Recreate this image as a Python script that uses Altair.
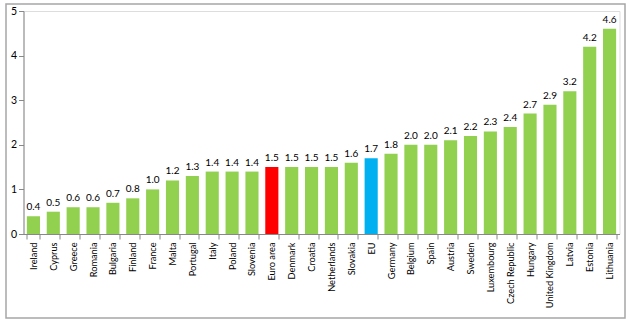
import altair as alt
import pandas as pd

countries = ["Ireland", "Cyprus", "Greece", "Romania", "Bulgaria", "Finland", "France", "Malta",
             "Portugal", "Italy", "Poland", "Slovenia", "Euro area", "Denmark", "Croatia",
             "Netherlands", "Slovakia", "EU", "Germany", "Belgium", "Spain", "Austria", "Sweden",
             "Luxembourg", "Czech Republic", "Hungary", "United Kingdom", "Latvia", "Estonia", "Lithuania"]
values = [0.4, 0.5, 0.6, 0.6, 0.7, 0.8, 1.0, 1.2, 1.3, 1.4, 1.4, 1.4, 1.5, 1.5, 1.5,
          1.5, 1.6, 1.7, 1.8, 2.0, 2.0, 2.1, 2.2, 2.3, 2.4, 2.7, 2.9, 3.2, 4.2, 4.6]
groups = ["Country"] * 12 + ["Euro area"] + ["Country"] * 4 + ["EU"] + ["Country"] * 12

df = pd.DataFrame({"country": countries, "value": values, "group": groups})
df["label"] = df["value"].map(lambda v: f"{v:.1f}")

FONT = "Lato"

x = alt.X("country:N", sort=countries, title=None,
          scale=alt.Scale(paddingInner=0.34, paddingOuter=0.17),
          axis=alt.Axis(labelAngle=270, labelAlign="right", labelBaseline="middle",
                        labelFont=FONT, labelFontSize=9.2, labelColor="#000000",
                        labelPadding=3, tickBand="extent", tickSize=5,
                        tickColor="#888888", domainColor="#888888", grid=False))
y = alt.Y("value:Q", title=None,
          scale=alt.Scale(domain=[0, 5], nice=False),
          axis=alt.Axis(values=[0, 1, 2, 3, 4, 5], format="d", labelFont=FONT, labelFontSize=10.5,
                        labelColor="#000000", tickSize=5, tickColor="#888888",
                        domainColor="#888888", grid=False, labelPadding=2))

bars = alt.Chart(df).mark_bar().encode(
    x=x, y=y,
    color=alt.Color("group:N", legend=None,
                    scale=alt.Scale(domain=["Country", "Euro area", "EU"],
                                    range=["#92D050", "#FF0000", "#00B0F0"])))

labels = alt.Chart(df).mark_text(dy=-9, font=FONT, fontSize=10, color="#000000").encode(
    x=x, y=y, text="label:N")

border = alt.Chart(pd.DataFrame({"a": [0]})).mark_rect(
    fill="transparent", stroke="#A6A6A6", strokeWidth=1.5).encode(
    x=alt.value(-17.5), x2=alt.value(601.5), y=alt.value(-7), y2=alt.value(307))

chart = alt.layer(bars, labels, border).properties(
    width=596, height=223,
    autosize=alt.AutoSizeParams(type="none"),
    padding={"left": 23.5, "top": 11, "right": 10.5, "bottom": 90},
).configure_view(stroke=None).configure(background="#FFFFFF")

chart.save("out.html", embed_options={"renderer": "svg", "actions": False})
